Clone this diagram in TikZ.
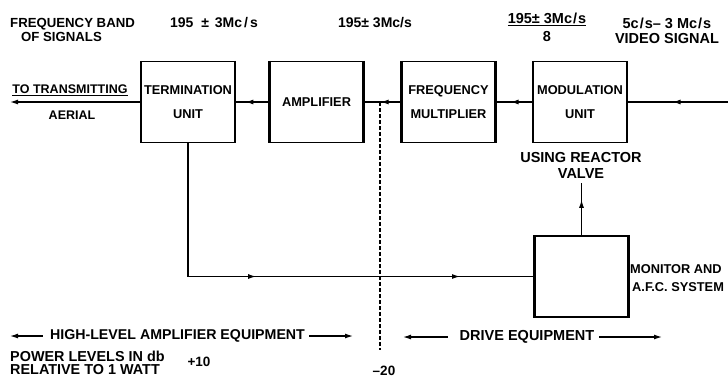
\documentclass[tikz,border=0pt]{standalone}
\usepackage{fontspec}
\usepackage{graphicx}
\setmainfont{Liberation Sans}
\usetikzlibrary{arrows.meta,decorations.markings}
\newcommand{\fsz}[2]{\fontsize{#1}{#2}\selectfont\bfseries}
\tikzset{
  blk/.style={draw, line width=1.3pt, minimum width=93pt, minimum height=81pt, inner sep=0pt, align=center, font=\fsz{12.8}{24}},
  lbl/.style={inner sep=0pt, align=center},
  wire/.style={line width=1.2pt},
  side/.style={line width=2.4pt},
  tip/.tip={Latex[length=8pt,width=5pt]},
  midarrow/.style={wire, postaction={decorate}, decoration={markings, mark=at position #1 with {\arrow{tip}}}},
  endarrow/.style={wire, -tip}
}
\begin{document}
\begin{tikzpicture}[x=1pt,y=-1pt]
\useasboundingbox (0,0) rectangle (728,388);
% blocks
\node[blk] (term) at (188,102) {TERMINATION\\UNIT};
\node[blk] (amp) at (316.5,102) {AMPLIFIER};
\node[blk] (mult) at (448.5,102) {FREQUENCY\\MULTIPLIER};
\node[blk] (mod) at (580,102) {MODULATION\\UNIT};
\node[blk] (mon) at (581.5,276.5) {};
\foreach \b in {term,amp,mult,mod,mon}{
  \draw[side] (\b.north west) -- (\b.south west) (\b.north east) -- (\b.south east);
}
% coordinates
\coordinate (aerial) at (10,102);
\coordinate (video) at (728,102);
\coordinate (valve) at (581.5,183);
\coordinate (dtop) at (380,102);
\coordinate (dbot) at (380,350);
% signal chain
\draw[midarrow=0.55] (video) -- (mod.east);
\draw[midarrow=0.6] (mod.west) -- (mult.east);
\draw[midarrow=0.55] (mult.west) -- (amp.east);
\draw[midarrow=0.7] (amp.west) -- (term.east);
\draw[endarrow] (term.west) -- (aerial);
% feedback
\draw[wire, postaction={decorate}, decoration={markings,
   mark=at position 0.42 with {\arrow{tip}},
   mark=at position 0.845 with {\arrow{tip}}}]
   (term.south) |- (mon.west);
\draw[midarrow=0.68] (mon.north) -- (valve);
% dashed divider
\draw[line width=1.2pt, dash pattern=on 4pt off 2pt] (dtop) -- (dbot);
% labels
\node[lbl, anchor=west, align=left, font=\fsz{13.2}{14}] (fb) at (10,30) {FREQUENCY BAND\\\hspace*{11pt}OF SIGNALS};
\node[lbl, font=\fsz{14}{15}] (f1) at (214,23) {195\hspace{4pt} ±\hspace{2pt} 3Mc\hspace{2pt}/\hspace{2pt}s};
\node[lbl, font=\fsz{14}{15}] (f2) at (375,23) {195± 3Mc/s};
\node[lbl, font=\fsz{14.5}{15}] (f3) at (547,27) {\underline{195± 3Mc\hspace{1pt}/\hspace{1pt}s}\\[3pt]8};
\node[lbl, font=\fsz{14.5}{15}] (vs) at (667,30.5) {5c\hspace{1pt}/\hspace{1pt}s– 3 Mc\hspace{1pt}/\hspace{1pt}s\\VIDEO SIGNAL};
\node[lbl, font=\fsz{12.5}{15}] (tt) at (70,90) {\underline{TO TRANSMITTING}};
\node[lbl, font=\fsz{12.5}{15}] (ae) at (72,115) {AERIAL};
\node[lbl, font=\fsz{14.5}{16}] (rv) at (581,165) {USING REACTOR\\VALVE};
\node[lbl, anchor=west, align=left, font=\fsz{12.8}{18}] (ma) at (630,278) {MONITOR AND\\\hspace*{2pt}A.F.C. SYSTEM};
\node[lbl, font=\fsz{14.2}{17}] (hl) at (177.5,336) {HIGH-LEVEL AMPLIFIER EQUIPMENT};
\coordinate (hlL) at (10,336);
\coordinate (hlR) at (353,336);
\draw[endarrow] (hl.west) ++(-7,0) -- (hlL);
\draw[endarrow] (hl.east) ++(4,0) -- (hlR);
\node[lbl, font=\fsz{14.5}{17}] (de) at (527,337) {DRIVE EQUIPMENT};
\coordinate (deL) at (403,337);
\coordinate (deR) at (662,337);
\draw[endarrow] (de.west) ++(-12,0) -- (deL);
\draw[endarrow] (de.east) ++(5,0) -- (deR);
\node[lbl, anchor=west, align=left, font=\fsz{14.4}{13.5}] (pl) at (10,363) {POWER LEVELS IN db\\RELATIVE TO 1 WATT};
\node[lbl, font=\fsz{13.5}{15}] (p10) at (199,362) {+10};
\node[lbl, font=\fsz{13.5}{15}] (p20) at (384,371) {–20};
\end{tikzpicture}
\end{document}
